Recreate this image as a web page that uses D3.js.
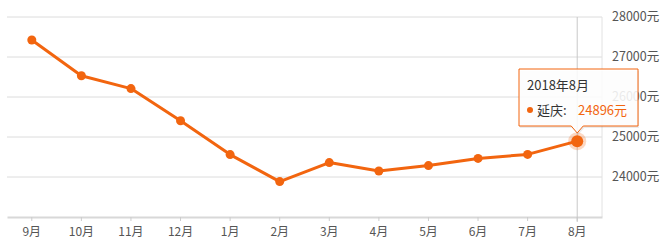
<!DOCTYPE html>
<html lang="zh">
<head>
    <meta charset="UTF-8">
    <title>延庆房价走势</title>
    <script src="https://d3js.org/d3.v7.min.js"></script>
    <style>
        body { margin: 0; background: #fff; }
        svg text { font-family: "Noto Sans CJK SC", "Noto Sans", sans-serif; }
    </style>
</head>
<body>
<svg id="chart" width="667" height="245"></svg>
<script>
    // data
    var months = ["9月", "10月", "11月", "12月", "1月", "2月", "3月", "4月", "5月", "6月", "7月", "8月"];
    var prices = [27425, 26530, 26210, 25405, 24560, 23885, 24360, 24150, 24285, 24465, 24565, 24896];
    var yTicks = [24000, 25000, 26000, 27000, 28000];
    var seriesName = "延庆";
    var tipTitle = "2018年8月";

    var orange = "#f2650f";
    var svg = d3.select("#chart");

    var x = d3.scaleBand().domain(months).range([7, 602]);
    var y = d3.scaleLinear().domain([23000, 28000]).range([217, 17]);
    var cx = function (m) { return x(m) + x.bandwidth() / 2; };

    // grid lines
    svg.append("g").selectAll("line")
        .data(yTicks)
        .enter().append("line")
        .attr("x1", 7).attr("x2", 602)
        .attr("y1", function (d) { return y(d); })
        .attr("y2", function (d) { return y(d); })
        .attr("stroke", "#dcdcdc").attr("stroke-width", 1);

    // right border
    svg.append("line")
        .attr("x1", 602).attr("x2", 602).attr("y1", y(28000)).attr("y2", y(23000))
        .attr("stroke", "#e2e2e2");

    // y labels on the right
    svg.append("g").selectAll("text")
        .data(yTicks)
        .enter().append("text")
        .attr("x", 612)
        .attr("y", function (d) { return y(d); })
        .attr("dy", "0.35em")
        .attr("fill", "#555")
        .style("font-size", "12.5px")
        .text(function (d) { return d + "元"; });

    // x axis
    var xAxis = svg.append("g").attr("transform", "translate(0,217)")
        .call(d3.axisBottom(x).tickSize(4).tickPadding(6).tickSizeOuter(0));
    xAxis.select(".domain").attr("stroke", "#d8d8d8").attr("stroke-width", 2);
    xAxis.selectAll(".tick line").attr("stroke", "#ccc");
    xAxis.selectAll(".tick text").attr("fill", "#555").style("font-size", "12px")
        .style("font-family", "'Noto Sans CJK SC', sans-serif");

    // crosshair at the last month
    var last = months.length - 1;
    svg.append("line")
        .attr("x1", cx(months[last])).attr("x2", cx(months[last]))
        .attr("y1", y(28000)).attr("y2", 222)
        .attr("stroke", "#c8c8c8");

    // line
    var line = d3.line()
        .x(function (d, i) { return cx(months[i]); })
        .y(function (d) { return y(d); });
    svg.append("path")
        .datum(prices)
        .attr("d", line)
        .attr("fill", "none")
        .attr("stroke", orange)
        .attr("stroke-width", 3)
        .attr("stroke-linejoin", "round");

    svg.append("g").selectAll("circle")
        .data(prices.slice(0, last))
        .enter().append("circle")
        .attr("cx", function (d, i) { return cx(months[i]); })
        .attr("cy", function (d) { return y(d); })
        .attr("r", 4.5)
        .attr("fill", orange);

    // highlighted point
    svg.append("circle")
        .attr("cx", cx(months[last])).attr("cy", y(prices[last]))
        .attr("r", 9).attr("fill", orange).attr("opacity", 0.25);
    svg.append("circle")
        .attr("cx", cx(months[last])).attr("cy", y(prices[last]))
        .attr("r", 6).attr("fill", orange);

    // tooltip
    var tx = 519, ty = 69, tw = 119, th = 57;
    var ax = cx(months[last]);
    var tip = svg.append("g");
    var tipPath = "M" + tx + "," + ty + "h" + tw + "v" + th +
        "H" + (ax + 6) + "l-6,7l-6,-7H" + tx + "Z";
    tip.append("path")
        .attr("d", tipPath)
        .attr("transform", "translate(1,2)")
        .attr("fill", "rgba(0,0,0,0.08)");
    tip.append("path")
        .attr("d", tipPath)
        .attr("fill", "rgba(255,255,255,0.88)")
        .attr("stroke", orange)
        .attr("stroke-width", 1);
    tip.append("text")
        .attr("x", 527).attr("y", 90)
        .attr("fill", "#333").style("font-size", "13px")
        .text(tipTitle);
    tip.append("circle")
        .attr("cx", 530).attr("cy", 110).attr("r", 3)
        .attr("fill", orange);
    tip.append("text")
        .attr("x", 537).attr("y", 115)
        .attr("fill", "#333").style("font-size", "13px")
        .text(seriesName + ":");
    tip.append("text")
        .attr("x", 578).attr("y", 115)
        .attr("fill", orange).style("font-size", "13px")
        .text(prices[last] + "元");
</script>
</body>
</html>
